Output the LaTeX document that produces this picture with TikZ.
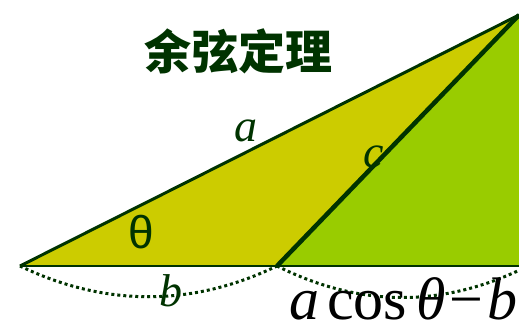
\documentclass[tikz,border=0pt]{standalone}
\usepackage{fontspec}
\setmainfont{Liberation Serif}
\newfontfamily\cjk{Noto Sans CJK SC}
\newfontfamily\sansf{Liberation Sans}
\definecolor{dkgreen}{RGB}{0,51,0}
\definecolor{yfill}{RGB}{204,204,0}
\definecolor{gfill}{RGB}{153,204,0}
\tikzset{
  edge/.style={draw=dkgreen, line width=3pt},
  dotarc/.style={draw=dkgreen, line width=3pt, dash pattern=on 3pt off 3pt},
  lbl/.style={text=dkgreen, inner sep=0pt, font=\fontsize{46}{46}\selectfont\itshape}
}
\begin{document}
\begin{tikzpicture}[x=1pt,y=-1pt]
\useasboundingbox (0,0) rectangle (519,320);
\clip (0,0) rectangle (519,320);
\coordinate (A) at (20,266);
\coordinate (B) at (277,266);
\coordinate (T) at (519,15);
\coordinate (F) at (530,266);
\coordinate (E2) at (528,266);
\fill[yfill] (A) -- (T) -- (B) -- cycle;
\fill[gfill] (B) -- (T) -- (530,15) -- (F) -- cycle;
\draw[dotarc] (A) .. controls (105,307) and (192,307) .. (B);
\draw[dotarc] (B) .. controls (361,308) and (444,308) .. (E2);
\draw[edge, line width=2.8pt] (A) -- (F);
\draw[edge] (A) -- (T);
\draw[edge, line width=4.5pt] (B) -- (T);
\node[text=dkgreen, font=\fontsize{47}{47}\selectfont\cjk\bfseries] (title) at (238,51) {余弦定理};
\node[lbl] (la) at (246,131) {a};
\node[lbl] (lc) at (374,157) {c};
\node[lbl] (lb) at (171,291) {b};
\node[text=dkgreen, inner sep=0pt, font=\fontsize{46}{46}\selectfont\sansf] (lt) at (141,232) {θ};
\node[anchor=base west, inner sep=0pt, font=\fontsize{60}{60}\selectfont] (formula) at (289,319) {\textit{a}\hspace{8pt}cos\hspace{9pt}\textit{θ}\hspace{4pt}−\hspace{4pt}\textit{b}};
\end{tikzpicture}
\end{document}
